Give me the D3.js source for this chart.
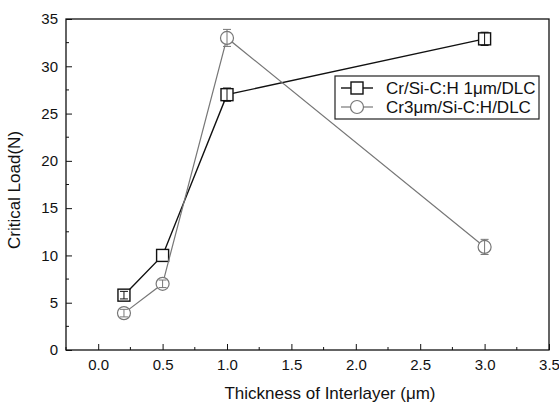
<!DOCTYPE html>
<meta charset="utf-8">
<style>
body { margin: 0; background: white; }
text { font-family: Arial, "Liberation Sans", sans-serif; fill: #111; }
.axis text { font-size: 15px; }
.axis path, .axis line { stroke: #111; }
</style>
<svg></svg>
<script src="https://cdn.jsdelivr.net/npm/d3@7"></script>
<script>

var width = 559;
var height = 408;
var margin = {top: 19, right: 10, bottom: 58, left: 66};

// data
var thickness = [0.2, 0.5, 1.0, 3.0];
var crSiLoad = [5.8, 10, 27, 32.9];
var crSiErr = [0.4, 0, 0.7, 0.7];
var cr3Load = [3.9, 7.0, 33.0, 10.9];
var cr3Err = [0.4, 0.4, 0.9, 0.8];
var seriesNames = ['Cr/Si-C:H 1\u03bcm/DLC', 'Cr3\u03bcm/Si-C:H/DLC'];
var xTicks = [0.0, 0.5, 1.0, 1.5, 2.0, 2.5, 3.0, 3.5];
var yTicks = [0, 5, 10, 15, 20, 25, 30, 35];

var series = [
  {name: seriesNames[0], y: crSiLoad, err: crSiErr, color: '#111', shape: 'square', width: 1.4},
  {name: seriesNames[1], y: cr3Load, err: cr3Err, color: '#777', shape: 'circle', width: 1.2}
];

var svg = d3.select('svg')
  .attr('width', width)
  .attr('height', height);

var x = d3.scaleLinear().domain([-0.25, 3.5]).range([margin.left, width - margin.right]);
var y = d3.scaleLinear().domain([0, 35]).range([height - margin.bottom, margin.top]);

// frame
svg.append('rect')
  .attr('x', x(-0.25)).attr('y', y(35))
  .attr('width', x(3.5) - x(-0.25)).attr('height', y(0) - y(35))
  .attr('fill', 'none').attr('stroke', '#111').attr('stroke-width', 1.3);

// minor ticks
svg.append('g')
  .selectAll('line')
  .data(d3.range(-0.25, 3.5, 0.5))
  .enter().append('line')
  .attr('x1', function (d) { return x(d); })
  .attr('x2', function (d) { return x(d); })
  .attr('y1', y(0)).attr('y2', y(0) - 3)
  .attr('stroke', '#111');

svg.append('g')
  .selectAll('line')
  .data(d3.range(2.5, 35, 5))
  .enter().append('line')
  .attr('x1', x(-0.25)).attr('x2', x(-0.25) + 3)
  .attr('y1', function (d) { return y(d); })
  .attr('y2', function (d) { return y(d); })
  .attr('stroke', '#111');

var xAxis = svg.append('g')
  .attr('class', 'axis')
  .attr('transform', 'translate(0,' + y(0) + ')')
  .call(d3.axisBottom(x).tickValues(xTicks).tickSize(-6).tickPadding(9).tickFormat(d3.format('.1f')));
xAxis.select('.domain').remove();

var yAxis = svg.append('g')
  .attr('class', 'axis')
  .attr('transform', 'translate(' + x(-0.25) + ',0)')
  .call(d3.axisLeft(y).tickValues(yTicks).tickSize(-6).tickPadding(8));
yAxis.select('.domain').remove();

svg.append('text')
  .attr('x', 330).attr('y', 399)
  .attr('text-anchor', 'middle')
  .style('font-size', '17px')
  .text('Thickness of Interlayer (\u03bcm)');

svg.append('text')
  .attr('transform', 'translate(20,190) rotate(-90)')
  .attr('text-anchor', 'middle')
  .style('font-size', '17px')
  .text('Critical Load(N)');

var line = d3.line()
  .x(function (d, i) { return x(thickness[i]); })
  .y(function (d) { return y(d); });

function drawMarker(g, shape, color) {
  if (shape === 'square') {
    g.append('rect')
      .attr('x', -6).attr('y', -6).attr('width', 12).attr('height', 12)
      .attr('fill', 'white').attr('stroke', color).attr('stroke-width', 1.4);
  } else {
    g.append('circle')
      .attr('r', 6.5)
      .attr('fill', 'white').attr('stroke', color).attr('stroke-width', 1.2);
  }
}

series.forEach(function (s) {
  var g = svg.append('g');

  g.append('path')
    .attr('d', line(s.y))
    .attr('fill', 'none')
    .attr('stroke', s.color)
    .attr('stroke-width', s.width);

  var pts = g.selectAll('g.pt')
    .data(s.y)
    .enter().append('g')
    .attr('class', 'pt')
    .attr('transform', function (d, i) { return 'translate(' + x(thickness[i]) + ',' + y(d) + ')'; });

  pts.each(function (d) { drawMarker(d3.select(this), s.shape, s.color); });

  // error bars
  pts.each(function (d, i) {
    var e = s.err[i];
    if (!e) return;
    var p = d3.select(this);
    var top = y(d + e) - y(d);
    var bot = y(d - e) - y(d);
    p.append('line').attr('x1', 0).attr('x2', 0).attr('y1', top).attr('y2', bot)
      .attr('stroke', s.color).attr('stroke-width', 1);
    [top, bot].forEach(function (v) {
      p.append('line').attr('x1', -4).attr('x2', 4).attr('y1', v).attr('y2', v)
        .attr('stroke', s.color).attr('stroke-width', 1);
    });
  });
});

// legend
var legend = svg.append('g').attr('transform', 'translate(335,76)');
legend.append('rect')
  .attr('width', 204).attr('height', 43)
  .attr('fill', 'white').attr('stroke', '#222').attr('stroke-width', 1.2);

series.forEach(function (s, i) {
  var ly = 12 + i * 19;
  var g = legend.append('g');
  g.append('line')
    .attr('x1', 6).attr('x2', 38).attr('y1', ly).attr('y2', ly)
    .attr('stroke', s.color).attr('stroke-width', s.width);
  drawMarker(g.append('g').attr('transform', 'translate(22,' + ly + ')'), s.shape, s.color);
  g.append('text')
    .attr('x', 51).attr('y', ly + 6)
    .style('font-size', '17px')
    .text(s.name);
});

</script>
